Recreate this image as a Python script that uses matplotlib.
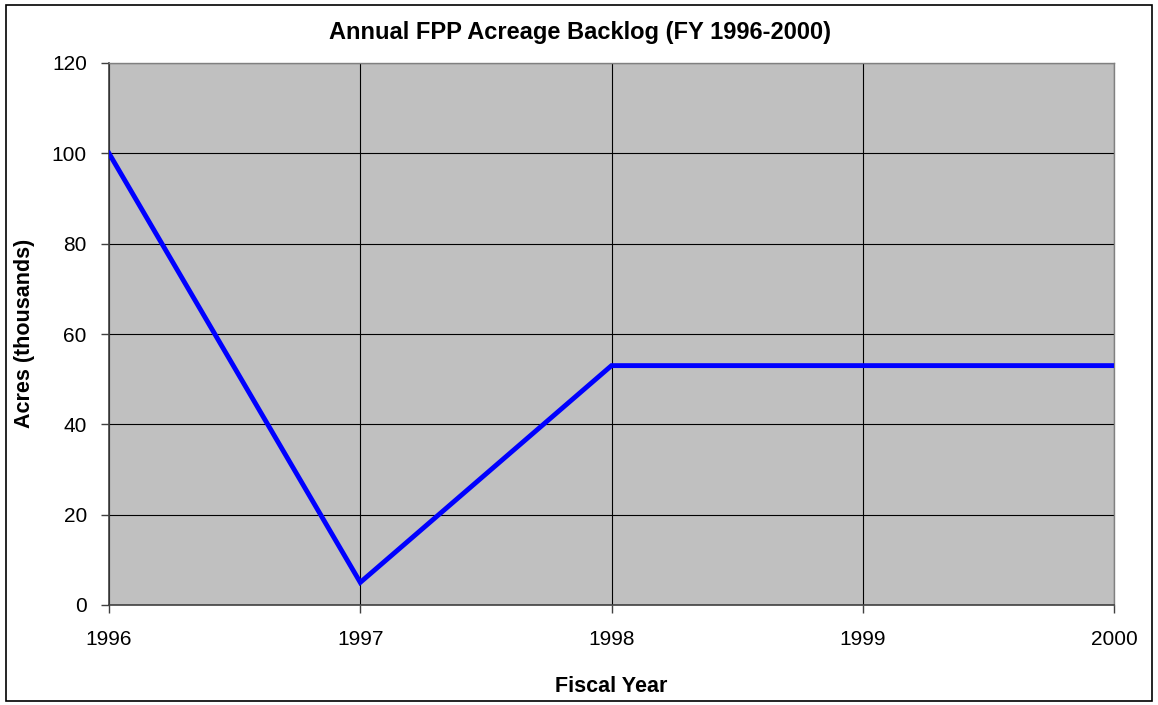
import matplotlib
matplotlib.use("Agg")
import matplotlib.pyplot as plt
from matplotlib.patches import Rectangle

plt.rcParams['font.family'] = ['Liberation Sans', 'DejaVu Sans']

years = [1996, 1997, 1998, 1999, 2000]
backlog = [100, 5, 53, 53, 53]  # acres, thousands
y_ticks = [0, 20, 40, 60, 80, 100, 120]

W, H = 1158, 705
fig = plt.figure(figsize=(W / 100, H / 100), dpi=100)

# chart border
fig.patches.append(Rectangle((6 / W, 4 / H), 1146 / W, 696 / H, transform=fig.transFigure,
                             fill=False, edgecolor='black', linewidth=1.2))

ax = fig.add_axes([109 / W, 1 - 605 / H, 1005 / W, 542 / H])
ax.set_facecolor('#c0c0c0')
ax.plot(years, backlog, color='#0000ff', linewidth=3.5, solid_joinstyle='miter', zorder=3)

ax.set_xlim(1996, 2000)
ax.set_ylim(0, 120)
ax.set_xticks(years)
ax.set_yticks(y_ticks)
ax.grid(True, color='black', linewidth=0.8)
ax.set_axisbelow(True)

for side in ['top', 'right']:
    ax.spines[side].set_color('#808080')
    ax.spines[side].set_linewidth(1.0)
for side in ['left', 'bottom']:
    ax.spines[side].set_color('#404040')
    ax.spines[side].set_linewidth(1.2)

ax.tick_params(axis='both', labelsize=15, length=6, width=1, color='#404040', direction='out')
ax.tick_params(axis='x', pad=12)
ax.tick_params(axis='y', pad=10)

fig.text(580 / W, 1 - 32 / H, 'Annual FPP Acreage Backlog (FY 1996-2000)',
         fontsize=17, fontweight='bold', ha='center', va='center')
fig.text(611 / W, 1 - 686 / H, 'Fiscal Year',
         fontsize=15.5, fontweight='bold', ha='center', va='center')
fig.text(25 / W, 1 - 333 / H, 'Acres (thousands)', rotation=90,
         fontsize=15.5, fontweight='bold', ha='center', va='center')

fig.savefig('out.png', dpi=100)
